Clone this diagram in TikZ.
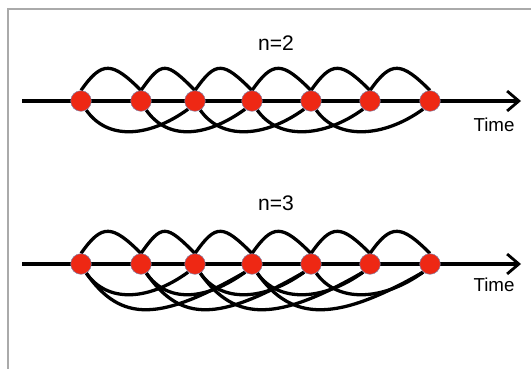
\documentclass[tikz,border=0pt]{standalone}
\usepackage{fontspec}
\setmainfont{Liberation Sans}
\usetikzlibrary{arrows.meta,backgrounds}
\definecolor{eventred}{RGB}{238,40,20}
\definecolor{eventrim}{RGB}{125,135,175}
\definecolor{framegray}{RGB}{170,170,170}
\begin{document}
\begin{tikzpicture}[x=0.03cm,y=-0.03cm,
		event/.style={circle,fill=eventred,draw=eventrim,line width=0.4pt,minimum size=0.62cm,inner sep=0pt},
		link/.style={line width=2.8pt},
		timeaxis/.style={line width=2.8pt,-{Straight Barb[length=10pt,width=17pt,line width=2.4pt]}},
		nlabel/.style={font=\fontsize{18}{20}\selectfont},
		tlabel/.style={font=\fontsize{16}{18}\selectfont}]
	\useasboundingbox (0,0) rectangle (531,369);
	\draw[framegray,line width=1.2pt] (8,9) rectangle (560,400);
	% events on both time lines
	\foreach \x [count=\i] in {81,141,195,252,311,370,430} {
		\node[event] (t\i) at (\x,101) {};
		\node[event] (b\i) at (\x,264) {};
	}
	\coordinate (ts) at (22,101);
	\coordinate (te) at (521,101);
	\coordinate (bs) at (22,264);
	\coordinate (be) at (521,264);
	\node[nlabel] (ntop) at (276,43) {n=2};
	\node[nlabel] (nbot) at (276,203) {n=3};
	\node[tlabel] (timetop) at (494,125) {Time};
	\node[tlabel] (timebot) at (494,285) {Time};
	\begin{scope}[on background layer]
		\draw[timeaxis] (ts) -- (te);
		\draw[timeaxis] (bs) -- (be);
		\foreach \i in {1,...,6} {
			\pgfmathtruncatemacro\j{\i+1}
			\draw[link] (t\i.north) .. controls +(21,-30) and +(-29,-29) .. (t\j.north);
			\draw[link] (b\i.north) .. controls +(21,-30) and +(-29,-29) .. (b\j.north);
		}
		\foreach \i in {1,...,5} {
			\pgfmathtruncatemacro\j{\i+2}
			\draw[link] (t\i.-60) .. controls +(21,30) and +(-40,29) .. (t\j.-130);
			\draw[link] (b\i.-60) .. controls +(21,30) and +(-40,29) .. (b\j.-130);
		}
		\foreach \i in {1,...,4} {
			\pgfmathtruncatemacro\j{\i+3}
			\draw[link] (b\i.-60) .. controls +(35,50) and +(-85,49) .. (b\j.-130);
		}
	\end{scope}
\end{tikzpicture}
\end{document}
